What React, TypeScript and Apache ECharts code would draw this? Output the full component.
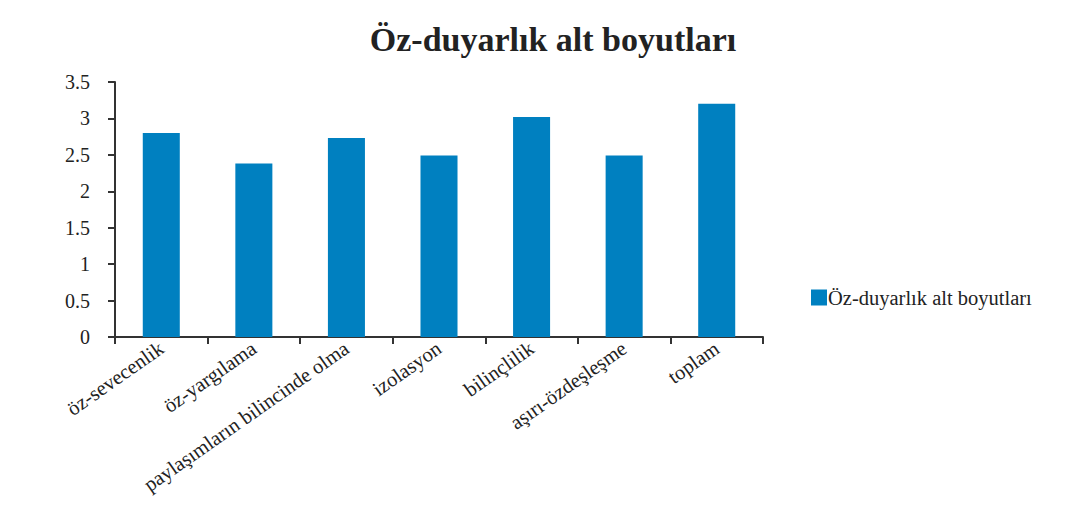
import React, { useEffect, useRef } from "react";
import * as echarts from "echarts";

const titleText = "Öz-duyarlık alt boyutları";
const seriesName = "Öz-duyarlık alt boyutları";
const categories = [
  "öz-sevecenlik",
  "öz-yargılama",
  "paylaşımların bilincinde olma",
  "izolasyon",
  "bilinçlilik",
  "aşırı-özdeşleşme",
  "toplam",
];
const values = [2.8, 2.38, 2.73, 2.49, 3.02, 2.49, 3.2];

const FONT = "'Liberation Serif', 'DejaVu Serif', serif";

export default function App() {
  const ref = useRef<HTMLDivElement>(null);
  useEffect(() => {
    if (!ref.current) return;
    const chart = echarts.init(ref.current, null, { renderer: "svg" });
    chart.setOption({
      animation: false,
      backgroundColor: "#ffffff",
      textStyle: { fontFamily: FONT },
      title: {
        text: titleText,
        left: 548,
        textAlign: "center",
        top: 17,
        textStyle: { fontFamily: FONT, fontSize: 34, fontWeight: "bold", color: "#222" },
      },
      legend: {
        left: 806,
        top: 282,
        itemWidth: 16,
        itemHeight: 16,
        itemGap: 5,
        icon: "rect",
        textStyle: { fontFamily: FONT, fontSize: 20.5, color: "#222", padding: [0, 0, 0, -4] },
        data: [seriesName],
      },
      grid: { left: 115, right: 314, top: 82, bottom: 177, containLabel: false },
      xAxis: {
        type: "category",
        data: categories,
        axisLine: { lineStyle: { color: "#333", width: 2 } },
        axisTick: { show: true, length: 7, alignWithLabel: false, lineStyle: { color: "#333", width: 2 } },
        axisLabel: {
          rotate: 35,
          interval: 0,
          margin: 9,
          fontFamily: FONT,
          fontSize: 20.5,
          color: "#222",
        },
      },
      yAxis: {
        type: "value",
        min: 0,
        max: 3.5,
        interval: 0.5,
        splitLine: { show: false },
        axisLine: { show: true, lineStyle: { color: "#333", width: 2 } },
        axisTick: { show: true, length: 7, lineStyle: { color: "#333", width: 2 } },
        axisLabel: { fontFamily: FONT, fontSize: 20, color: "#222", margin: 25 },
      },
      series: [
        {
          name: seriesName,
          type: "bar",
          data: values,
          barWidth: "40%",
          itemStyle: { color: "#0080C0" },
        },
      ],
    });
    return () => chart.dispose();
  }, []);
  return (
    <div
      ref={ref}
      style={{ position: "absolute", left: 0, top: 0, width: 1077, height: 514 }}
    />
  );
}
